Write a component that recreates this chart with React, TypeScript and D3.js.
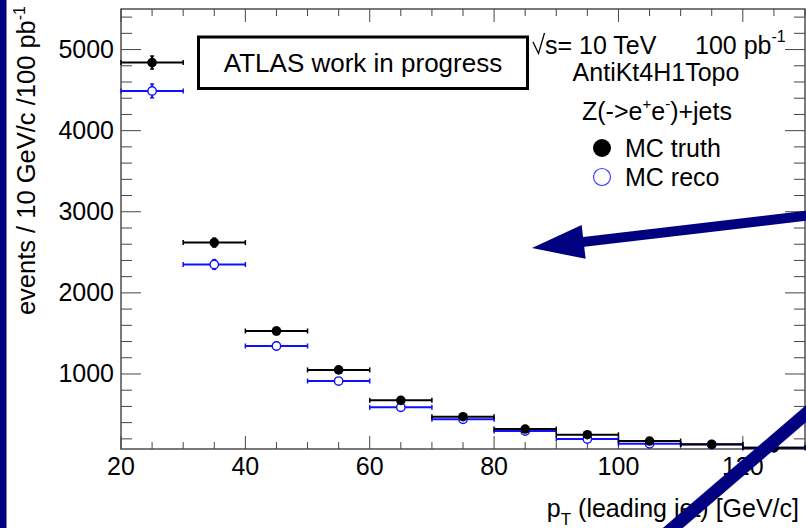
import React from "react";
import * as d3 from "d3";

// Binning of the leading-jet pT histogram (GeV/c)
const binLow = [20, 30, 40, 50, 60, 70, 80, 90, 100, 110, 120];
const binWidth = 10;

// Events per bin, MC truth and MC reco
const truthValues = [4840, 2620, 1530, 1050, 675, 473, 321, 251, 173, 133, 91];
const truthErrors = [80, 55, 45, 35, 28, 22, 18, 16, 13, 11, 10];
const recoValues = [4490, 2350, 1345, 913, 589, 441, 297, 198, 140, 130, 90];
const recoErrors = [85, 60, 45, 35, 28, 22, 18, 15, 12, 11, 10];

// Axis tick labels
const xTickLabels = [20, 40, 60, 80, 100, 120];
const yTickLabels = [1000, 2000, 3000, 4000, 5000];

const W = 806;
const H = 528;
const FONT = "'Liberation Sans', Arial, Helvetica, sans-serif";
const NAVY = "#000080";
const BLUE = "#1010ff";

const frame = { left: 121, right: 805, top: 9, bottom: 449 };

export default function App() {
  const x = d3.scaleLinear().domain([20, 130]).range([frame.left, frame.right]);
  const y = d3.scaleLinear().domain([75, 5500]).range([frame.bottom, frame.top]);

  const xMinor = d3.range(20, 130.01, 5).filter((v) => v % 20 !== 0);
  const yMinor = d3.range(200, 5500, 200).filter((v) => v % 1000 !== 0 && y(v) > frame.top);

  const series = (
    values: number[],
    errors: number[],
    color: string,
    filled: boolean,
    key: string
  ) =>
    values.map((v, i) => {
      const x0 = x(binLow[i]);
      const x1 = x(binLow[i] + binWidth);
      const xc = x(binLow[i] + binWidth / 2);
      const yc = y(v);
      const yLo = y(v - errors[i]);
      const yHi = y(v + errors[i]);
      return (
        <g key={key + i}>
          <line x1={x0} x2={x1} y1={yc} y2={yc} stroke={color} strokeWidth={2} />
          <line x1={x0} x2={x0} y1={yc - 2.5} y2={yc + 2.5} stroke={color} strokeWidth={1.5} />
          <line x1={x1} x2={x1} y1={yc - 2.5} y2={yc + 2.5} stroke={color} strokeWidth={1.5} />
          <line x1={xc} x2={xc} y1={yLo} y2={yHi} stroke={color} strokeWidth={2} />
          <line x1={xc - 2} x2={xc + 2} y1={yLo} y2={yLo} stroke={color} strokeWidth={1.5} />
          <line x1={xc - 2} x2={xc + 2} y1={yHi} y2={yHi} stroke={color} strokeWidth={1.5} />
          {filled ? (
            <circle cx={xc} cy={yc} r={4.8} fill={color} />
          ) : (
            <circle cx={xc} cy={yc} r={4.2} fill="white" stroke={color} strokeWidth={1.4} />
          )}
        </g>
      );
    });

  // Annotation arrows
  const arrowTail = [808, 215.5];
  const arrowTip = [532, 248];
  const dx = arrowTip[0] - arrowTail[0];
  const dy = arrowTip[1] - arrowTail[1];
  const len = Math.hypot(dx, dy);
  const ux = dx / len;
  const uy = dy / len;
  const headLen = 52;
  const headHalf = 17;
  const bx = arrowTip[0] - ux * headLen;
  const by = arrowTip[1] - uy * headLen;
  const headPts = [
    [arrowTip[0], arrowTip[1]],
    [bx - uy * headHalf, by + ux * headHalf],
    [bx + uy * headHalf, by - ux * headHalf],
  ]
    .map((p) => p.join(","))
    .join(" ");

  return (
    <svg
      width={W}
      height={H}
      style={{ position: "absolute", left: 0, top: 0, background: "white" }}
      fontFamily={FONT}
    >
      <rect x={0} y={0} width={W} height={H} fill="white" />
      <rect x={0} y={0} width={6.5} height={H} fill={NAVY} />

      {/* frame */}
      <rect
        x={frame.left}
        y={frame.top}
        width={frame.right - frame.left}
        height={frame.bottom - frame.top}
        fill="none"
        stroke="#222"
        strokeWidth={1.2}
      />

      {/* x ticks, bottom and top */}
      {xTickLabels.map((v) => (
        <g key={"xt" + v}>
          <line x1={x(v)} x2={x(v)} y1={frame.bottom} y2={frame.bottom - 13} stroke="#444" />
          <line x1={x(v)} x2={x(v)} y1={frame.top} y2={frame.top + 13} stroke="#444" />
          <text x={x(v)} y={475} fontSize={25} textAnchor="middle" fill="#000">
            {v}
          </text>
        </g>
      ))}
      {xMinor.map((v) => (
        <g key={"xm" + v}>
          <line x1={x(v)} x2={x(v)} y1={frame.bottom} y2={frame.bottom - 7} stroke="#444" />
          <line x1={x(v)} x2={x(v)} y1={frame.top} y2={frame.top + 7} stroke="#444" />
        </g>
      ))}

      {/* y ticks, left and right */}
      {yTickLabels.map((v) => (
        <g key={"yt" + v}>
          <line x1={frame.left} x2={frame.left + 20} y1={y(v)} y2={y(v)} stroke="#444" />
          <line x1={frame.right} x2={frame.right - 20} y1={y(v)} y2={y(v)} stroke="#444" />
          <text x={114} y={y(v) + 8.5} fontSize={25} textAnchor="end" fill="#000">
            {v}
          </text>
        </g>
      ))}
      {yMinor.map((v) => (
        <g key={"ym" + v}>
          <line x1={frame.left} x2={frame.left + 11} y1={y(v)} y2={y(v)} stroke="#444" />
          <line x1={frame.right} x2={frame.right - 11} y1={y(v)} y2={y(v)} stroke="#444" />
        </g>
      ))}

      {/* axis titles */}
      <text
        transform="translate(35,6) rotate(-90)"
        textAnchor="end"
        fontSize={25.5}
        fill="#000"
      >
        events / 10 GeV/c /100 pb
        <tspan dy={-10} fontSize={16}>
          -1
        </tspan>
      </text>
      <text x={799} y={517} textAnchor="end" fontSize={25} fill="#000">
        p
        <tspan dy={8} fontSize={17}>
          T
        </tspan>
        <tspan dy={-8}> (leading jet) [GeV/c]</tspan>
      </text>

      {/* histograms */}
      <g>{series(recoValues, recoErrors, BLUE, false, "reco")}</g>
      <g>{series(truthValues, truthErrors, "#000", true, "truth")}</g>

      {/* label box */}
      <rect x={198.5} y={37} width={329} height={51.5} fill="white" stroke="#000" strokeWidth={3} />
      <text x={363} y={72} textAnchor="middle" fontSize={26} fill="#000">
        ATLAS work in progress
      </text>

      {/* legend */}
      <path d="M533,42 L538.5,53.5 L544.5,33" fill="none" stroke="#000" strokeWidth={1.3} />
      <text x={545} y={54} fontSize={25} fill="#000">
        s= 10 TeV
      </text>
      <text x={695} y={54} fontSize={25} fill="#000">
        100 pb
        <tspan dy={-12} fontSize={16}>
          -1
        </tspan>
      </text>
      <text x={656} y={81} textAnchor="middle" fontSize={25} fill="#000">
        AntiKt4H1Topo
      </text>
      <text x={657} y={120} textAnchor="middle" fontSize={25} fill="#000">
        Z(-&gt;e
        <tspan dy={-11} fontSize={15}>+</tspan>
        <tspan dy={11}>e</tspan>
        <tspan dy={-11} fontSize={15}>-</tspan>
        <tspan dy={11}>)+jets</tspan>
      </text>
      <circle cx={602} cy={148} r={9} fill="#000" />
      <text x={625} y={157} fontSize={25} fill="#000">
        MC truth
      </text>
      <circle cx={602} cy={177} r={8.5} fill="white" stroke="#4040ff" strokeWidth={1.2} />
      <text x={625} y={186} fontSize={25} fill="#000">
        MC reco
      </text>

      {/* annotation arrows */}
      <line
        x1={arrowTail[0]}
        y1={arrowTail[1]}
        x2={bx + ux * 4}
        y2={by + uy * 4}
        stroke={NAVY}
        strokeWidth={10}
      />
      <polygon points={headPts} fill={NAVY} />
      <line x1={660} y1={539} x2={822} y2={400} stroke={NAVY} strokeWidth={13} />
    </svg>
  );
}
